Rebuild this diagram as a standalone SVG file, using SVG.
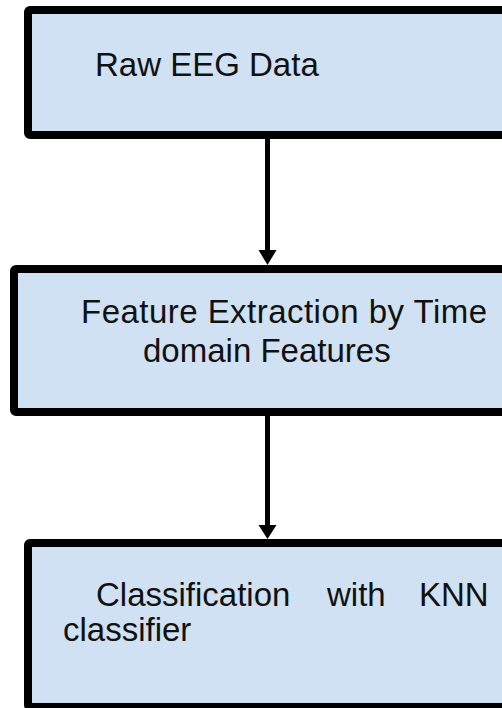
<svg xmlns="http://www.w3.org/2000/svg" width="502" height="708" viewBox="0 0 502 708">
<style>
.box{fill:#cfe1f2;stroke:#000;stroke-width:8}
.t{font-family:"Liberation Sans",Arial,sans-serif;font-size:33px;fill:#111}
.line{stroke:#000;stroke-width:5}
.head{fill:#000}
</style>
<rect width="502" height="708" fill="#fff"/>
<g id="node1">
<rect class="box" x="28" y="10" width="500" height="125" rx="2"/>
<text class="t" x="95" y="76">Raw EEG Data</text>
</g>
<g id="node2">
<rect class="box" x="14" y="269" width="520" height="143" rx="2"/>
<text class="t" x="81" y="323" textLength="406">Feature Extraction by Time</text>
<text class="t" x="143" y="362">domain Features</text>
</g>
<g id="node3">
<rect class="box" x="28" y="543" width="500" height="164" rx="2"/>
<text class="t" y="606"><tspan x="96">Classification</tspan><tspan x="327">with</tspan><tspan x="419">KNN</tspan></text>
<text class="t" x="63" y="641">classifier</text>
</g>
<g id="connectors">
<line class="line" x1="267.5" y1="139" x2="267.5" y2="252"/>
<polygon class="head" points="258.5,250 276.5,250 267.5,265"/>
<line class="line" x1="267.5" y1="416" x2="267.5" y2="527"/>
<polygon class="head" points="258.5,525 276.5,525 267.5,539"/>
</g>
</svg>
